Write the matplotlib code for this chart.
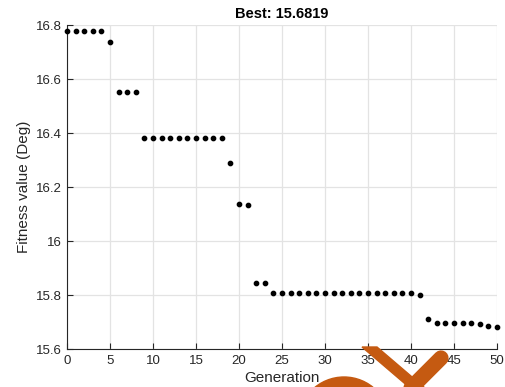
import matplotlib
matplotlib.use("Agg")
import matplotlib.pyplot as plt
from matplotlib.patches import Circle, Polygon
from matplotlib.lines import Line2D

plt.rcParams["font.family"] = ["Liberation Sans", "DejaVu Sans"]

# best fitness per generation
generations = list(range(0, 51))
fitness = (
    [16.778] * 5
    + [16.737]
    + [16.552] * 3
    + [16.381] * 10
    + [16.289]
    + [16.136, 16.132]
    + [15.846, 15.845]
    + [15.809] * 17
    + [15.801]
    + [15.710]
    + [15.697] * 4
    + [15.695, 15.691, 15.685, 15.6819]
)
best = 15.6819

DARK = "#262626"

fig = plt.figure(figsize=(5.05, 3.87), dpi=100)
ax = fig.add_axes([67 / 505, 1 - 349 / 387, 430 / 505, 324 / 387])

ax.plot(generations, fitness, "o", color="black", markersize=3.1, linestyle="none",
        clip_on=False, zorder=3)

ax.set_xlim(0, 50)
ax.set_ylim(15.6, 16.8)
ax.set_xticks(range(0, 51, 5))
ax.set_yticks([15.6, 15.8, 16.0, 16.2, 16.4, 16.6, 16.8])
ax.set_yticklabels(["15.6", "15.8", "16", "16.2", "16.4", "16.6", "16.8"])
ax.grid(True, color="#e3e3e3", linewidth=0.9)
ax.set_axisbelow(True)
for s in ("top", "right"):
    ax.spines[s].set_visible(False)
for s in ("left", "bottom"):
    ax.spines[s].set_color(DARK)
    ax.spines[s].set_linewidth(0.8)
ax.tick_params(direction="in", length=4, width=0.8, color=DARK, labelcolor=DARK,
               labelsize=9.5, pad=4)

ax.set_title(f"Best: {best}", fontsize=10.5, fontweight="bold", pad=5)
ax.set_xlabel("Generation", fontsize=11, color=DARK, labelpad=3)
ax.set_ylabel("Fitness value (Deg)", fontsize=11, color=DARK, labelpad=3)

# orange logo overlay in pixel coords
ov = fig.add_axes([0, 0, 1, 1], zorder=10)
ov.set_xlim(0, 505)
ov.set_ylim(387, 0)
ov.axis("off")
orange = "#C55A11"
ov.add_patch(Circle((344, 423), 46, color=orange))
ov.add_patch(Polygon([(362, 347), (377, 347), (439, 400), (424, 400)], closed=True,
                     color=orange))
ov.add_line(Line2D([441, 392], [358, 407], color=orange, linewidth=11,
                   solid_capstyle="round"))

fig.savefig("out.png", dpi=100)
